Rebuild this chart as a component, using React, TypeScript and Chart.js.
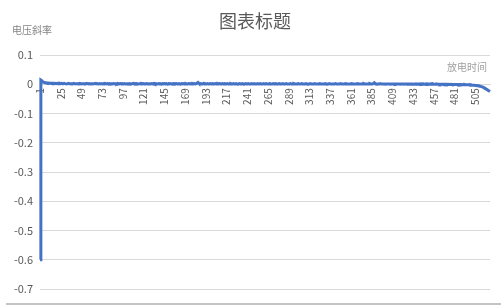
import React, { useEffect, useRef } from "react";
import { Chart, registerables } from "chart.js";

Chart.register(...registerables);

const chartTitle = "图表标题";
const yAxisTitle = "电压斜率";
const xAxisTitle = "放电时间";

const xTickLabels = [
  "1", "25", "49", "73", "97", "121", "145", "169", "193", "217", "241", "265",
  "289", "313", "337", "361", "385", "409", "433", "457", "481", "505",
];

const yTickValues = [0.1, 0, -0.1, -0.2, -0.3, -0.4, -0.5, -0.6, -0.7];

const slopeValues = [
  -0.6, 0.014, 0.012, 0.009, 0.007, 0.006, 0.005, 0.005, 0.004, 0.004, 0.003, 0.004, 0.003, 0.003, 0.002, 0.003, 0.003, 0.002, 0.003, 0.002,
  0.003, 0.002, 0.002, 0.003, 0.002, 0.003, 0.002, 0.002, 0.003, 0.002, 0.002, 0.001, 0.002, 0.003, 0.002, 0.002, 0.001, 0.002, 0.002, 0.003,
  0.002, 0.001, 0.002, 0.002, 0.001, 0.002, 0.003, 0.002, 0.001, 0.002, 0.002, 0.001, 0.002, 0.002, 0.003, 0.002, 0.001, 0.002, 0.001, 0.002,
  0.002, 0.002, 0.001, 0.002, 0.003, 0.001, 0.002, 0.002, 0.001, 0.002, 0.001, 0.002, 0.002, 0.001, 0.002, 0.003, 0.002, 0.001, 0.002, 0.001,
  0.002, 0.001, 0.002, 0.002, 0.001, 0.002, 0.001, 0.002, 0.002, 0.001, 0.003, 0.002, 0.001, 0.002, 0.001, 0.002, 0.002, 0.001, 0.002, 0.001,
  0.001, 0.002, 0.002, 0.001, 0.002, 0.001, 0.001, 0.002, 0.003, 0.001, 0.002, 0.001, 0.002, 0.001, 0.001, 0.002, 0.002, 0.001, 0.002, 0.001,
  0.002, 0.001, 0.001, 0.002, 0.001, 0.002, 0.002, 0.001, 0.001, 0.002, 0.001, 0.002, 0.003, 0.001, 0.002, 0.001, 0.001, 0.002, 0.001, 0.002,
  0.001, 0.001, 0.002, 0.001, 0.002, 0.001, 0.002, 0.001, 0.001, 0.002, 0.001, 0.002, 0.001, 0.001, 0.002, 0.001, 0.002, 0.001, 0.002, 0.001,
  0.001, 0.002, 0.001, 0.001, 0.002, 0.001, 0.002, 0.001, 0.001, 0.002, 0.001, 0.001, 0.002, 0.001, 0.002, 0.001, 0.001, 0.002, 0.001, 0.002,
  0.001, 0.002, 0.004, 0.006, 0.003, 0.001, 0.002, 0.001, 0.001, 0.002, 0.001, 0.002, 0.001, 0.001, 0.002, 0.001, 0.001, 0.002, 0.001, 0.001,
  0.002, 0.001, 0.001, 0.002, 0.001, 0.001, 0.002, 0.001, 0.002, 0.001, 0.001, 0.002, 0.001, 0.001, 0.002, 0.001, 0.001, 0.002, 0.001, 0.001,
  0.001, 0.002, 0.001, 0.001, 0.002, 0.001, 0.001, 0.002, 0.001, 0.001, 0.001, 0.002, 0.001, 0.001, 0.002, 0.001, 0.001, 0.001, 0.002, 0.001,
  0.001, 0.002, 0.001, 0.001, 0.001, 0.002, 0.001, 0.001, 0.002, 0.001, 0.001, 0.001, 0.002, 0.001, 0.001, 0.002, 0.001, 0.001, 0.001, 0.002,
  0.001, 0.001, 0.002, 0.001, 0.001, 0.001, 0.002, 0.001, 0.001, 0.001, 0.002, 0.001, 0.001, 0.002, 0.001, 0.001, 0.001, 0.002, 0.001, 0.001,
  0.001, 0.002, 0.001, 0.001, 0.001, 0.002, 0.001, 0.001, 0.001, 0.001, 0.002, 0.001, 0.001, 0.001, 0.002, 0.001, 0.001, 0.001, 0.001, 0.002,
  0.001, 0.001, 0.001, 0.002, 0.001, 0.001, 0.001, 0.001, 0.002, 0.001, 0.001, 0.001, 0.001, 0.002, 0.001, 0.001, 0.001, 0.001, 0.002, 0.001,
  0.001, 0.001, 0.001, 0.001, 0.002, 0.001, 0.001, 0.001, 0.001, 0.001, 0.002, 0.001, 0.001, 0.001, 0.001, 0.002, 0.001, 0.001, 0.001, 0.001,
  0.001, 0.001, 0.002, 0.001, 0.001, 0.001, 0.001, 0.001, 0.002, 0.001, 0.001, 0.001, 0.001, 0.001, 0.002, 0.001, 0.001, 0.001, 0.001, 0.001,
  0.001, 0.002, 0.001, 0.001, 0.001, 0.001, 0.001, 0.001, 0.002, 0.001, 0.001, 0.001, 0.001, 0.001, 0.001, 0.002, 0.001, 0.001, 0.001, 0.001,
  0.001, 0.001, 0.002, 0.001, 0.001, 0.001, 0.003, 0.005, 0.002, 0.001, 0.001, 0.001, 0.001, 0.001, 0.002, 0.001, 0.001, 0.001, 0.001, 0.001,
  0, 0.001, 0.001, 0.001, 0.001, 0.001, 0, 0.001, 0.001, 0.001, 0.001, 0, 0.001, 0.001, 0.001, 0.001, 0.001, 0, 0.001, 0.001,
  0.001, 0, 0.001, 0.001, 0.001, 0, 0.001, 0.001, 0, 0.001, 0.001, 0, 0.001, 0.001, 0, 0.001, 0, 0.001, 0.001, 0,
  0.001, 0, 0.001, 0, 0.001, 0, 0, 0.001, 0, 0.001, 0, 0, 0.001, 0, 0, 0.001, 0, 0, 0, 0.001,
  0, 0, 0, -0.001, 0, 0, 0, -0.001, 0, 0, -0.001, 0, -0.001, 0, -0.001, -0.001, 0, -0.001, -0.001, -0.001,
  -0.001, -0.001, -0.001, -0.001, -0.001, -0.002, -0.001, -0.001, -0.002, -0.001, -0.002, -0.002, -0.001, -0.002, -0.002, -0.002, -0.002, -0.002, -0.003, -0.002,
  -0.003, -0.003, -0.003, -0.003, -0.004, -0.004, -0.004, -0.005, -0.005, -0.006, -0.007, -0.008, -0.009, -0.010, -0.012, -0.013, -0.015, -0.017, -0.019, -0.021,
  -0.023, -0.025,
];

const categories = slopeValues.map((_, i) => String(i + 1));

const FONT = "'Noto Sans CJK SC', 'Noto Sans', sans-serif";

const decorPlugin = {
  id: "decor",
  afterDraw(chart: any) {
    const ctx = chart.ctx;
    ctx.save();
    ctx.fillStyle = "#595959";
    ctx.font = `18px ${FONT}`;
    ctx.textAlign = "center";
    ctx.textBaseline = "middle";
    ctx.fillText(chartTitle, 255, 21);
    ctx.fillStyle = "#858585";
    ctx.font = `10px ${FONT}`;
    ctx.textAlign = "left";
    ctx.fillText(yAxisTitle, 12, 30);
    ctx.textAlign = "right";
    ctx.fillStyle = "#a0a0a0";
    ctx.fillText(xAxisTitle, 487, 67);
    ctx.fillStyle = "#c4c4c4";
    ctx.fillRect(6, 303, 495, 2);
    ctx.restore();
  },
};

export default function App() {
  const ref = useRef<HTMLCanvasElement | null>(null);
  useEffect(() => {
    if (!ref.current) return;
    const chart = new Chart(ref.current, {
      type: "line",
      data: {
        labels: categories,
        datasets: [
          {
            data: slopeValues,
            borderColor: "#4472C4",
            borderWidth: 3,
            pointRadius: 0,
            tension: 0,
            fill: false,
          },
        ],
      },
      options: {
        responsive: false,
        animation: false,
        events: [],
        layout: { padding: { left: 0, top: 55, right: 11, bottom: 17 } },
        plugins: {
          legend: { display: false },
          title: { display: false },
          tooltip: { enabled: false },
        },
        scales: {
          x: {
            type: "category",
            position: { y: 0 } as any,
            offset: false,
            grid: { display: false, drawTicks: false },
            border: { display: true, color: "#d9d9d9" },
            ticks: {
              autoSkip: false,
              minRotation: 90,
              maxRotation: 90,
              padding: 4,
              color: "#595959",
              font: { size: 10, family: FONT },
              callback: function (this: any, value: any) {
                const lab = this.getLabelForValue(value);
                return xTickLabels.includes(lab) ? lab : null;
              },
            },
          },
          y: {
            min: -0.7,
            max: 0.1,
            afterFit: (scale: any) => {
              scale.width = 40;
            },
            afterBuildTicks: (scale: any) => {
              scale.ticks = yTickValues.map((v) => ({ value: v }));
            },
            grid: { color: "#d9d9d9", drawTicks: false, lineWidth: 1 },
            border: { display: false },
            ticks: {
              padding: 7,
              color: "#595959",
              font: { size: 11, family: FONT },
              callback: (v: any) => (Math.abs(v) < 1e-9 ? "0" : Number(v).toFixed(1)),
            },
          },
        },
      },
      plugins: [decorPlugin],
    });
    return () => chart.destroy();
  }, []);
  return (
    <div style={{ position: "fixed", left: 0, top: 0, width: 501, height: 306, background: "#fff" }}>
      <canvas ref={ref} width={501} height={306} />
    </div>
  );
}
